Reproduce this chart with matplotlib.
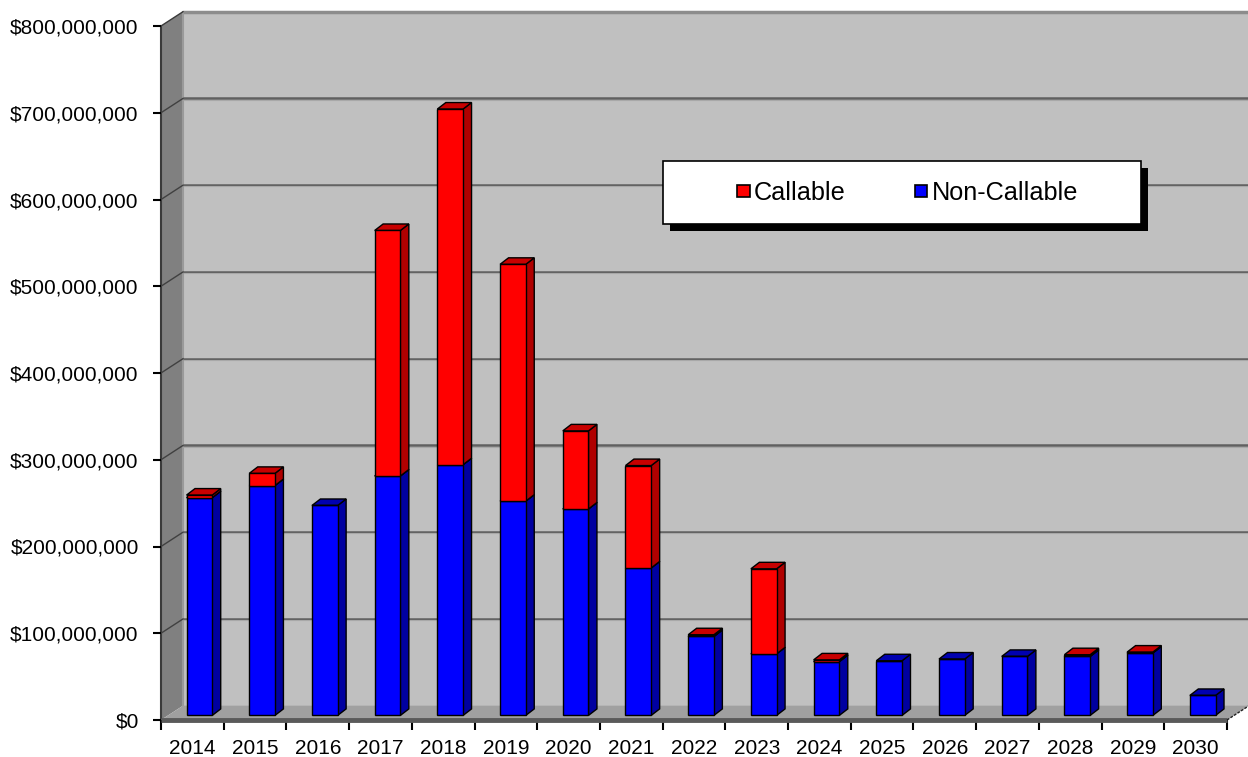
import matplotlib
matplotlib.use("Agg")
import matplotlib.pyplot as plt
from matplotlib.patches import Polygon, Rectangle
from matplotlib.ticker import FuncFormatter

plt.rcParams['font.family'] = ['Liberation Sans', 'DejaVu Sans']

# Maturity schedule, $ millions
years = ['2014', '2015', '2016', '2017', '2018', '2019', '2020', '2021', '2022',
         '2023', '2024', '2025', '2026', '2027', '2028', '2029', '2030']
non_callable = [251, 265, 242, 276, 289, 247, 238, 170, 91,
                71, 62, 63, 65, 68, 68, 72, 23]
callable_amt = [3, 14, 0, 283, 410, 273, 90, 118, 2,
                98, 2, 0, 0, 0, 2, 1, 0]
y_ticks = [0, 100, 200, 300, 400, 500, 600, 700, 800]

W, H = 1248, 757
fig = plt.figure(figsize=(W / 100, H / 100), dpi=100)
ax = fig.add_axes([161 / W, 1 - 720 / H, 1066 / W, 694 / H])
ax.patch.set_visible(False)
n = len(years)
ymax = y_ticks[-1]
ax.set_xlim(0, n)
ax.set_ylim(0, ymax)

# oblique depth of the whole box (category units, $M)
DX, DY = 0.351, 16.5
# bar placement inside the box
bar_w = 0.41
d_front = 0.32
bx, by = 0.135, 7.5

# side wall, back wall, floor
ax.add_patch(Polygon([(0, 0), (DX, DY), (DX, ymax + DY), (0, ymax)],
                     closed=True, fc='#808080', ec='none', zorder=0, clip_on=False))
ax.add_patch(Polygon([(DX, DY), (n + DX, DY), (n + DX, ymax + DY), (DX, ymax + DY)],
                     closed=True, fc='#c0c0c0', ec='none', zorder=0, clip_on=False))
ax.plot([DX, n + DX], [ymax + DY, ymax + DY], color='#8c8c8c', lw=2.5, zorder=1,
        clip_on=False, solid_capstyle='butt')
ax.plot([DX, DX], [DY, ymax + DY], color='#9a9a9a', lw=1.5, zorder=1, clip_on=False)
ax.plot([0, 0], [0, ymax], color='#3a3a3a', lw=1.5, zorder=1, clip_on=False)
ax.plot([0, DX], [ymax, ymax + DY], color='#3a3a3a', lw=1, zorder=1, clip_on=False)

for v in y_ticks[1:-1]:
    ax.plot([DX, n + DX], [v + DY, v + DY], color='#606060', lw=1.8, zorder=1,
            clip_on=False, solid_capstyle='butt')
    ax.plot([DX, n + DX], [v + DY - 1.3, v + DY - 1.3], color='#a8a8a8', lw=0.8,
            zorder=1, clip_on=False, solid_capstyle='butt')
    ax.plot([0, DX], [v, v + DY], color='#404040', lw=1, zorder=1, clip_on=False)

ax.add_patch(Polygon([(0, 0), (n, 0), (n + DX, DY), (DX, DY)],
                     closed=True, fc='#a0a0a0', ec='none', zorder=1, clip_on=False))
ax.plot([0, n], [0, 0], color='#5a5a5a', lw=3.5, zorder=2, clip_on=False,
        solid_capstyle='butt')
ax.plot([n, n + DX], [0, DY], color='#202020', lw=1, ls=(0, (2, 1)), zorder=2,
        clip_on=False)


def draw_block(x0, y0, h, side, top, z):
    # right side face and top face of one stacked segment
    ax.add_patch(Polygon([(x0 + bar_w, y0), (x0 + bar_w + bx, y0 + by),
                          (x0 + bar_w + bx, y0 + h + by), (x0 + bar_w, y0 + h)],
                         closed=True, fc=side, ec='black', lw=1.0, zorder=z, clip_on=False))
    ax.add_patch(Polygon([(x0, y0 + h), (x0 + bx, y0 + h + by),
                          (x0 + bar_w + bx, y0 + h + by), (x0 + bar_w, y0 + h)],
                         closed=True, fc=top, ec='black', lw=1.0, zorder=z, clip_on=False))


base = d_front * DY
lefts = [i + (1 - bar_w) / 2 + d_front * DX for i in range(n)]
for i in range(n):
    z = 3 + i * 0.01
    draw_block(lefts[i], base, non_callable[i], '#0000a0', '#0000b0', z)
    if callable_amt[i] > 0:
        draw_block(lefts[i], base + non_callable[i], callable_amt[i],
                   '#b00000', '#c80000', z + 0.005)

# front faces
ax.bar(lefts, non_callable, width=bar_w, bottom=base, align='edge',
       color='#0000ff', edgecolor='black', linewidth=1.0, zorder=4, clip_on=False)
red_bottoms = [base + b for b in non_callable]
ax.bar(lefts, callable_amt, width=bar_w, bottom=red_bottoms, align='edge',
       color='#ff0000', edgecolor='black', linewidth=1.0, zorder=4, clip_on=False)

# axes ticks and labels
for s in ax.spines.values():
    s.set_visible(False)
ax.set_yticks(y_ticks)
ax.yaxis.set_major_formatter(FuncFormatter(lambda v, p: f'${v * 1e6:,.0f}'))
ax.tick_params(axis='y', direction='out', length=6, width=1.5, pad=10,
               labelsize=15, colors='black')
ax.set_xticks(range(n + 1))
ax.set_xticklabels([])
ax.set_xticks([i + 0.5 for i in range(n)], minor=True)
ax.set_xticklabels(years, minor=True)
ax.tick_params(axis='x', which='major', direction='out', length=7, width=1.5)
ax.tick_params(axis='x', which='minor', length=0, pad=14, labelsize=15)


# legend box with solid drop shadow
def fx(px):
    return px / W


def fy(py):
    return 1 - py / H


lx0, lx1, ly0, ly1 = 663, 1141, 161, 224
fig.add_artist(Rectangle((fx(lx0 + 7), fy(ly1 + 7)), fx(lx1 - lx0), (ly1 - ly0) / H,
                         transform=fig.transFigure, fc='black', ec='none', zorder=10))
fig.add_artist(Rectangle((fx(lx0), fy(ly1)), fx(lx1 - lx0), (ly1 - ly0) / H,
                         transform=fig.transFigure, fc='white', ec='black', lw=1.2, zorder=11))
for sx, color, label in [(737, '#ff0000', 'Callable'), (915, '#0000ff', 'Non-Callable')]:
    fig.add_artist(Rectangle((fx(sx), fy(197)), fx(12.5), 12.5 / H,
                             transform=fig.transFigure, fc=color, ec='black', lw=1.2, zorder=12))
    fig.text(fx(sx + 17), fy(193), label, fontsize=18.2, va='center', ha='left', zorder=12)

fig.savefig('out.png', dpi=100)
